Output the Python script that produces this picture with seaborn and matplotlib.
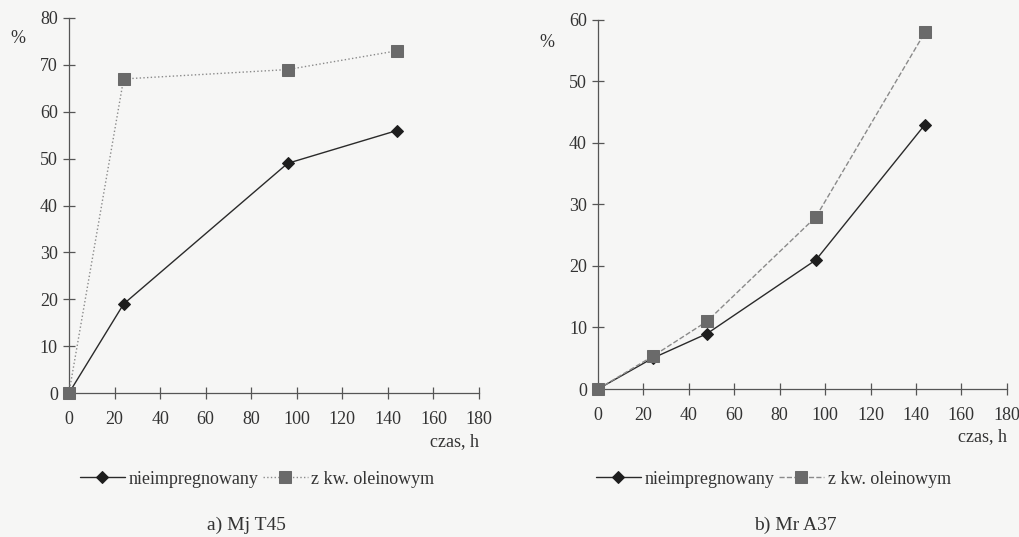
import matplotlib
matplotlib.use("Agg")
import matplotlib.pyplot as plt
import seaborn as sns
import pandas as pd

# ---- data ----
series_names = ["nieimpregnowany", "z kw. oleinowym"]

a_time = [0, 24, 96, 144]
a_niei = [0, 19, 49, 56]
a_olei = [0, 67, 69, 73]

b_time = [0, 24, 48, 96, 144]
b_niei = [0, 5, 9, 21, 43]
b_olei = [0, 5.3, 11, 28, 58]

x_ticks = [0, 20, 40, 60, 80, 100, 120, 140, 160, 180]
a_yticks = [0, 10, 20, 30, 40, 50, 60, 70, 80]
b_yticks = [0, 10, 20, 30, 40, 50, 60]

captions = ["a) Mj T45", "b) Mr A37"]

sns.set_theme(style="white")
plt.rcParams['font.family'] = ['Liberation Serif', 'DejaVu Serif']
bg = "#f6f6f5"

fig = plt.figure(figsize=(10.2, 5.37), dpi=100, facecolor=bg)
axA = fig.add_axes([0.0676, 0.268, 0.402, 0.6985])
axB = fig.add_axes([0.5863, 0.2756, 0.4007, 0.6872])


def make_df(t, s1, s2):
    return pd.DataFrame({
        "czas": list(t) + list(t),
        "val": list(s1) + list(s2),
        "seria": [series_names[0]] * len(t) + [series_names[1]] * len(t),
    })


def draw(ax, df, olei_ls, ymax, yticks, caption, lx, cx, pct_y):
    palette = {series_names[0]: "#1e1e1e", series_names[1]: "#6a6a6a"}
    for name, ls, mk, ms, lc in [(series_names[0], "-", "D", 6, "#2a2a2a"),
                                 (series_names[1], olei_ls, "s", 8, "#8a8a8a")]:
        sub = df[df["seria"] == name]
        sns.lineplot(data=sub, x="czas", y="val", ax=ax, color=lc,
                     linestyle=ls, linewidth=1.0, marker=mk, markersize=ms,
                     markerfacecolor=palette[name], markeredgecolor=palette[name],
                     label=name, legend=False, clip_on=False, zorder=3)
    ax.set_facecolor(bg)
    ax.set_xlim(0, 180)
    ax.set_ylim(0, ymax)
    ax.set_xticks(x_ticks)
    ax.set_yticks(yticks)
    for s in ["top", "right"]:
        ax.spines[s].set_visible(False)
    for s in ["left", "bottom"]:
        ax.spines[s].set_color("#555555")
        ax.spines[s].set_linewidth(0.9)
    ax.tick_params(axis="both", direction="inout", length=8, width=0.9,
                   colors="#555555", labelcolor="#333333", labelsize=13,
                   bottom=True, left=True, pad=4)
    ax.tick_params(axis="x", pad=9)
    ax.set_xlabel("")
    ax.set_ylabel("")
    ax.text(1.0, -0.13, "czas, h", transform=ax.transAxes, ha="right",
            va="center", fontsize=13, color="#333333")
    ax.text(-0.125, pct_y, "%", transform=ax.transAxes, ha="center",
            va="center", fontsize=13, color="#333333")
    h, l = ax.get_legend_handles_labels()
    fig.legend(h, l, loc="center", bbox_to_anchor=(lx, 0.108), ncol=2,
               frameon=False, fontsize=13, handlelength=2.5,
               columnspacing=0.25, handletextpad=0.2, labelcolor="#333333")
    fig.text(cx, 0.022, caption, ha="center", va="center", fontsize=14,
             color="#333333")


draw(axA, make_df(a_time, a_niei, a_olei), ":", 80, a_yticks, captions[0],
     0.252, 0.242, 0.945)
draw(axB, make_df(b_time, b_niei, b_olei), "--", 60, b_yticks, captions[1],
     0.758, 0.78, 0.94)

fig.savefig("out.png", dpi=100, facecolor=bg)
